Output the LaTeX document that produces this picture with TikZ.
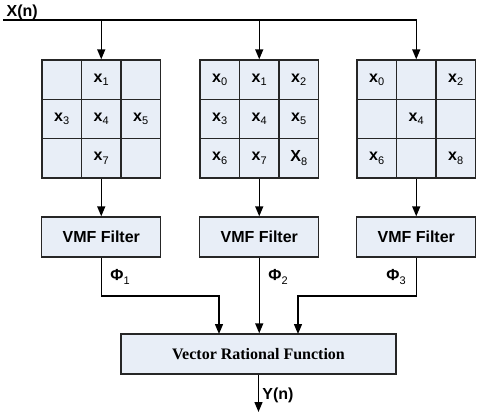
\documentclass[tikz,border=0pt]{standalone}
\usepackage{fontspec}
\setmainfont{Liberation Sans}
\newfontfamily\tmsfont{Liberation Serif}
\usetikzlibrary{arrows.meta}
\definecolor{cellfill}{HTML}{E8EEF7}
\newcommand\sbs[1]{\raisebox{-0.22em}{\fontsize{11}{11}\selectfont\mdseries #1}}
\newcommand\xs[1]{x\sbs{#1}}
\begin{document}
\begin{tikzpicture}[x=1pt,y=-1pt,line width=1.4pt,
  cell/.style={draw=black!85,fill=cellfill,minimum width=39.5pt,minimum height=39.3pt,inner sep=0pt,font=\fontsize{16}{16}\selectfont\bfseries},
  vmf/.style={draw=black!85,fill=cellfill,minimum width=119pt,minimum height=40pt,inner sep=0pt,font=\fontsize{16}{16}\selectfont\bfseries},
  vrf/.style={draw=black!85,fill=cellfill,minimum width=275pt,minimum height=40pt,inner sep=0pt,font=\fontsize{16}{16}\selectfont\tmsfont\bfseries},
  lbl/.style={inner sep=0pt,font=\fontsize{16}{16}\selectfont\bfseries},
  arr/.style={-{Triangle[length=10pt,width=8pt]}}]
\useasboundingbox (0,0) rectangle (480,415);
% grid 1
\node[cell] (g1-00) at (61.75,79.65) {};
\node[cell] (g1-01) at (101.25,79.65) {\xs{1}};
\node[cell] (g1-02) at (140.75,79.65) {};
\node[cell] (g1-10) at (61.75,118.95) {\xs{3}};
\node[cell] (g1-11) at (101.25,118.95) {\xs{4}};
\node[cell] (g1-12) at (140.75,118.95) {\xs{5}};
\node[cell] (g1-20) at (61.75,158.25) {};
\node[cell] (g1-21) at (101.25,158.25) {\xs{7}};
\node[cell] (g1-22) at (140.75,158.25) {};
% grid 2
\node[cell] (g2-00) at (219.75,79.65) {\xs{0}};
\node[cell] (g2-01) at (259.25,79.65) {\xs{1}};
\node[cell] (g2-02) at (298.75,79.65) {\xs{2}};
\node[cell] (g2-10) at (219.75,118.95) {\xs{3}};
\node[cell] (g2-11) at (259.25,118.95) {\xs{4}};
\node[cell] (g2-12) at (298.75,118.95) {\xs{5}};
\node[cell] (g2-20) at (219.75,158.25) {\xs{6}};
\node[cell] (g2-21) at (259.25,158.25) {\xs{7}};
\node[cell] (g2-22) at (298.75,158.25) {X\sbs{8}};
% grid 3
\node[cell] (g3-00) at (376.75,79.65) {\xs{0}};
\node[cell] (g3-01) at (416.25,79.65) {};
\node[cell] (g3-02) at (455.75,79.65) {\xs{2}};
\node[cell] (g3-10) at (376.75,118.95) {};
\node[cell] (g3-11) at (416.25,118.95) {\xs{4}};
\node[cell] (g3-12) at (455.75,118.95) {};
\node[cell] (g3-20) at (376.75,158.25) {\xs{6}};
\node[cell] (g3-21) at (416.25,158.25) {};
\node[cell] (g3-22) at (455.75,158.25) {\xs{8}};
% filters
\node[vmf] (f1) at (101.25,237) {VMF Filter};
\node[vmf] (f2) at (259.25,237) {VMF Filter};
\node[vmf] (f3) at (416.25,237) {VMF Filter};
\node[vrf] (v) at (258.5,354) {Vector Rational Function};
% labels
\node[lbl,anchor=west] (xn) at (6,12) {X(n)};
\node[lbl] (p1) at (120,277) {Φ\sbs{1}};
\node[lbl] (p2) at (278,277) {Φ\sbs{2}};
\node[lbl] (p3) at (396,277) {Φ\sbs{3}};
\node[lbl] (yn) at (278,395) {Y(n)};
% connectors
\coordinate (t0) at (3,20);
\coordinate (m) at (0,296);
\coordinate (v1) at (219,334);
\coordinate (v3) at (298,334);
\coordinate (out) at (258.5,412);
\draw[arr] (t0) -| (g3-01.north);
\draw[arr] (g1-01.north |- t0) -- (g1-01.north);
\draw[arr] (g2-01.north |- t0) -- (g2-01.north);
\draw[arr] (g1-21.south) -- (f1.north);
\draw[arr] (g2-21.south) -- (f2.north);
\draw[arr] (g3-21.south) -- (f3.north);
\draw[arr] (f1.south) -- (f1.south |- m) -| (v1);
\draw[arr] (f2.south) -- (f2.south |- v.north);
\draw[arr] (f3.south) -- (f3.south |- m) -| (v3);
\draw[arr] (v.south) -- (out);
\end{tikzpicture}
\end{document}
